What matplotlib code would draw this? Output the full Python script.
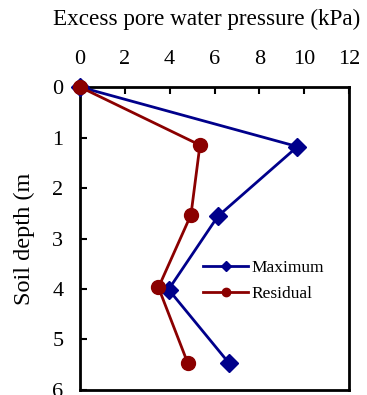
import matplotlib
matplotlib.use("Agg")
import matplotlib.pyplot as plt

plt.rcParams['font.family'] = ['Liberation Serif', 'DejaVu Serif']

# depth (m) and excess pore water pressure (kPa)
max_pressure = [0, 9.7, 6.15, 3.95, 6.65]
max_depth = [0, 1.18, 2.56, 4.01, 5.47]
res_pressure = [0, 5.35, 4.95, 3.5, 4.8]
res_depth = [0, 1.15, 2.53, 3.97, 5.46]

fig = plt.figure(figsize=(3.67, 3.95), dpi=100)
ax = fig.add_axes([0.218, 0.0127, 0.733, 0.767])

ax.plot(max_pressure, max_depth, color='#00008b', marker='D', markersize=9,
        linewidth=2, label='Maximum', clip_on=False, zorder=3)
ax.plot(res_pressure, res_depth, color='#8b0000', marker='o', markersize=10,
        linewidth=2, label='Residual', clip_on=False, zorder=4)

ax.set_xlim(0, 12)
ax.set_ylim(6, 0)
ax.set_xticks(range(0, 13, 2))
ax.set_yticks(range(0, 7))
ax.xaxis.tick_top()
ax.xaxis.set_label_position('top')
ax.tick_params(direction='in', length=5, width=1.5, labelsize=16)
ax.tick_params(axis='x', pad=13)
ax.tick_params(axis='y', pad=12)
for s in ax.spines.values():
    s.set_linewidth(2)

ax.set_xlabel('Excess pore water pressure (kPa)', fontsize=16.7, va='center')
ax.xaxis.set_label_coords(0.472, 1.222)
ax.set_ylabel('Soil depth (m', fontsize=17.5, va='center')
ax.yaxis.set_label_coords(-0.205, 0.5)

ax.legend(loc='center left', bbox_to_anchor=(0.457, 0.36), frameon=False,
          fontsize=12.5, markerscale=0.6, handlelength=2.6, handletextpad=0.2,
          labelspacing=0.6, borderpad=0, borderaxespad=0)

fig.savefig('out.png', dpi=100)
